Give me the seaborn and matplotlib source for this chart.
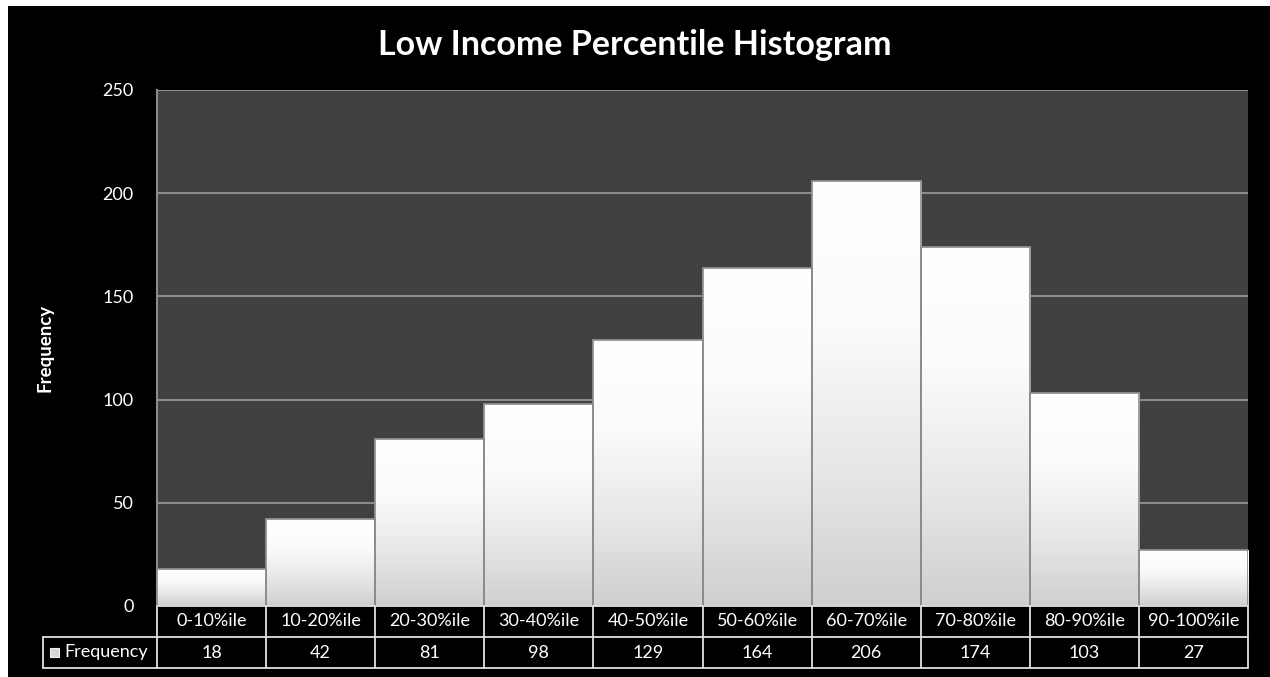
import numpy as np
import matplotlib
matplotlib.use("Agg")
import matplotlib.pyplot as plt
import seaborn as sns
import pandas as pd
from matplotlib.patches import Rectangle
from matplotlib.lines import Line2D
from matplotlib.colors import LinearSegmentedColormap

categories = ["0-10%ile", "10-20%ile", "20-30%ile", "30-40%ile", "40-50%ile",
              "50-60%ile", "60-70%ile", "70-80%ile", "80-90%ile", "90-100%ile"]
frequency = [18, 42, 81, 98, 129, 164, 206, 174, 103, 27]
yticks = [0, 50, 100, 150, 200, 250]
series_name = "Frequency"
title = "Low Income Percentile Histogram"

sns.set_theme(style="dark")
plt.rcParams['font.family'] = ['Lato', 'DejaVu Sans']

W, H = 1270, 677
fig = plt.figure(figsize=(W / 100, H / 100), dpi=100, facecolor="white")
fig.add_artist(Rectangle((8 / W, 0), 1 - 8 / W, 1 - 6 / H, transform=fig.transFigure,
                         facecolor="black", edgecolor="none", zorder=-10))

L, R, T, B = 157, 1248, 90, 606
ax = fig.add_axes([L / W, 1 - B / H, (R - L) / W, (B - T) / H])
ax.set_facecolor("#404040")

df = pd.DataFrame({"cat": categories, "freq": frequency})
sns.barplot(data=df, x="cat", y="freq", ax=ax, width=1.0, color="white",
            edgecolor="#8a8a8a", linewidth=1.2, saturation=1, zorder=3)

ax.set_ylim(0, 250)
ax.set_xlim(-0.5, len(categories) - 0.5)
ax.set_yticks(yticks)
ax.set_yticklabels([str(t) for t in yticks], color="white", fontsize=13)
ax.tick_params(axis="y", length=0, pad=17)
ax.set_xticks([])
ax.set_xlabel("")
ax.set_ylabel("Frequency", color="white", fontsize=13.5, fontweight="bold", labelpad=0)
ax.yaxis.set_label_coords((54 - L) / (R - L), 0.5)
ax.grid(axis="y", color="#8c8c8c", linewidth=1.5, zorder=1)
ax.grid(axis="x", visible=False)
for s in ["top", "right", "bottom"]:
    ax.spines[s].set_visible(False)
ax.spines["left"].set_color("#8c8c8c")
ax.spines["left"].set_linewidth(1.5)

grad = np.linspace(0, 1, 256).reshape(-1, 1)
cmap = LinearSegmentedColormap.from_list("g", ["#cfcfcf", "#e8e8e8", "#fbfbfb", "#ffffff"])
for p in ax.patches:
    x0, y0 = p.get_x(), p.get_y()
    w, h = p.get_width(), p.get_height()
    im = ax.imshow(grad, cmap=cmap, aspect="auto", extent=[x0, x0 + w, y0, y0 + h],
                   origin="lower", zorder=3.5, interpolation="bicubic")
    im.set_clip_path(p)
    ax.add_patch(Rectangle((x0, y0), w, h, facecolor="none", edgecolor="#8a8a8a",
                           linewidth=1.2, zorder=4))
ax.set_xlim(-0.5, len(categories) - 0.5)
ax.set_ylim(0, 250)

fig.text(0.5, 1 - 45 / H, title, color="white", fontsize=24.5, fontweight="bold",
         ha="center", va="center")

tr = ax.get_xaxis_transform()
ph = B - T
r1 = -(637 - B) / ph
r2 = -(668 - B) / ph
lc = "#e0e0e0"
n = len(categories)
hx = (43 - L) / (R - L)
ax.add_line(Line2D([-0.5, n - 0.5], [r1, r1], transform=tr, color=lc, lw=1.3, clip_on=False))
ax.add_line(Line2D([-0.5, n - 0.5], [r2, r2], transform=tr, color=lc, lw=1.3, clip_on=False))
ax.add_line(Line2D([-0.5, n - 0.5], [0, 0], transform=tr, color=lc, lw=1.3, clip_on=False, zorder=5))
for i in range(n + 1):
    ax.add_line(Line2D([i - 0.5, i - 0.5], [0, r2], transform=tr, color=lc, lw=1.3, clip_on=False))
ax.add_line(Line2D([hx, 0], [r1, r1], transform=ax.transAxes, color=lc, lw=1.3, clip_on=False))
ax.add_line(Line2D([hx, 0], [r2, r2], transform=ax.transAxes, color=lc, lw=1.3, clip_on=False))
ax.add_line(Line2D([hx, hx], [r1, r2], transform=ax.transAxes, color=lc, lw=1.3, clip_on=False))
for i, (c, v) in enumerate(zip(categories, frequency)):
    ax.text(i, (0 + r1) / 2, c, transform=tr, ha="center", va="center", color="white", fontsize=13)
    ax.text(i, (r1 + r2) / 2, str(v), transform=tr, ha="center", va="center", color="white", fontsize=13)
kx = (50 - L) / (R - L)
kw = 9 / (R - L)
kh = 9 / ph
ax.add_patch(Rectangle((kx, (r1 + r2) / 2 - kh / 2), kw, kh, transform=ax.transAxes,
                       facecolor="#d8d8d8", edgecolor="#f0f0f0", lw=0.8, clip_on=False))
ax.text((64 - L) / (R - L), (r1 + r2) / 2, series_name, transform=ax.transAxes,
        ha="left", va="center", color="white", fontsize=13)

fig.savefig("out.png", dpi=100, facecolor=fig.get_facecolor())
